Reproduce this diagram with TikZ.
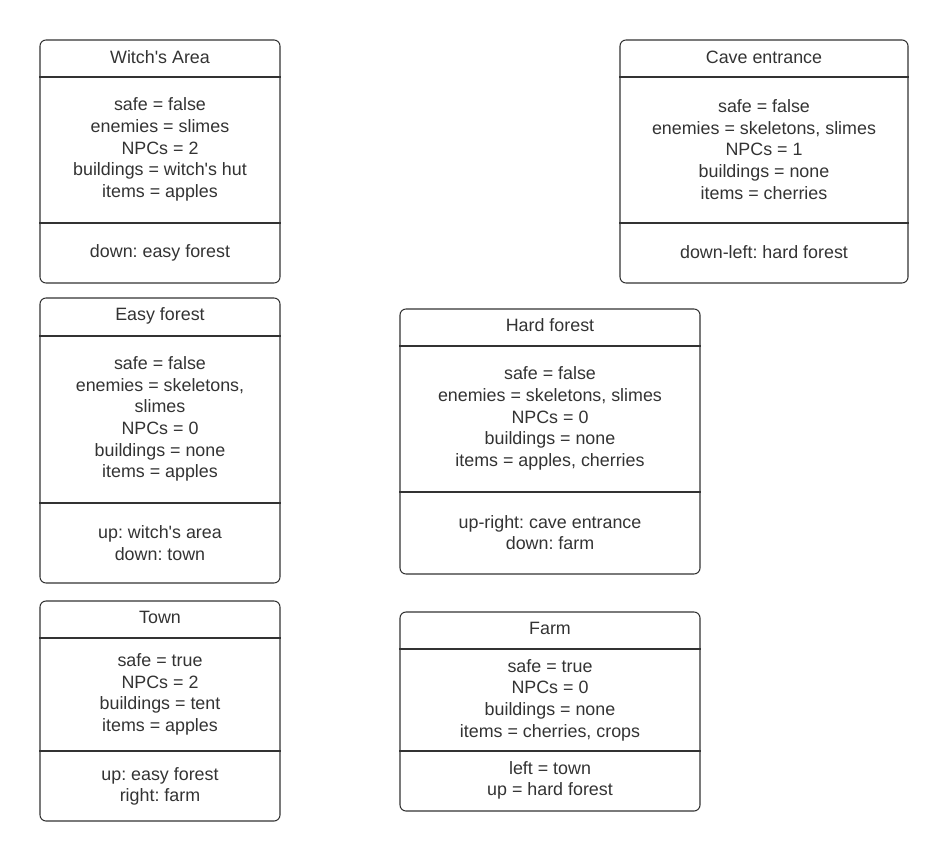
\documentclass[tikz,border=0pt]{standalone}
\usepackage{fontspec}
\setmainfont{Liberation Sans}
\usetikzlibrary{positioning}
\definecolor{ink}{HTML}{333333}
\tikzset{
	room/.style={rectangle, draw=ink, thick, rounded corners=4.5pt, inner sep=0pt},
	divider/.style={draw=ink, thick},
	label/.style={text=ink, align=center, font=\fontsize{13.4pt}{16.3pt}\selectfont}
}
\frenchspacing

\begin{document}
\begin{tikzpicture}[x=0.75pt, y=-0.75pt]
\useasboundingbox (0,0) rectangle (948,862);

% Witch's Area
\node[room, minimum width=180pt, minimum height=182.25pt] (witch) at (160,161.5) {};
\draw[divider] (witch.west |- 0,77) -- (witch.east |- 0,77);
\draw[divider] (witch.west |- 0,223) -- (witch.east |- 0,223);
\node[label] (witchtitle) at (160,57) {Witch\textquotesingle s Area};
\node[label] (witchbody) at (160,149.5) {safe = false\\enemies = slimes\\NPCs = 2\\buildings = witch\textquotesingle s hut\\items = apples};
\node[label] (witchexits) at (160,252.5) {down: easy forest};

% Cave entrance
\node[room, minimum width=216pt, minimum height=182.25pt] (cave) at (764,161.5) {};
\draw[divider] (cave.west |- 0,77) -- (cave.east |- 0,77);
\draw[divider] (cave.west |- 0,223) -- (cave.east |- 0,223);
\node[label] (cavetitle) at (764,57) {Cave entrance};
\node[label] (cavebody) at (764,149.5) {safe = false\\enemies = skeletons, slimes\\NPCs = 1\\buildings = none\\items = cherries};
\node[label] (caveexits) at (764,252.5) {down-left: hard forest};

% Easy forest
\node[room, minimum width=180pt, minimum height=213.75pt] (easy) at (160,440.5) {};
\draw[divider] (easy.west |- 0,336) -- (easy.east |- 0,336);
\draw[divider] (easy.west |- 0,503) -- (easy.east |- 0,503);
\node[label] (easytitle) at (160,315.5) {Easy forest};
\node[label] (easybody) at (160,419) {safe = false\\enemies = skeletons,\\slimes\\NPCs = 0\\buildings = none\\items = apples};
\node[label] (easyexits) at (160,543) {up: witch\textquotesingle s area\\down: town};

% Hard forest
\node[room, minimum width=225pt, minimum height=198.75pt] (hard) at (550,441.5) {};
\draw[divider] (hard.west |- 0,346) -- (hard.east |- 0,346);
\draw[divider] (hard.west |- 0,492) -- (hard.east |- 0,492);
\node[label] (hardtitle) at (550,325.5) {Hard forest};
\node[label] (hardbody) at (550,418.5) {safe = false\\enemies = skeletons, slimes\\NPCs = 0\\buildings = none\\items = apples, cherries};
\node[label] (hardexits) at (550,532.5) {up-right: cave entrance\\down: farm};

% Town
\node[room, minimum width=180pt, minimum height=165pt] (town) at (160,711) {};
\draw[divider] (town.west |- 0,638) -- (town.east |- 0,638);
\draw[divider] (town.west |- 0,751) -- (town.east |- 0,751);
\node[label] (towntitle) at (160,617.5) {Town};
\node[label] (townbody) at (160,694.5) {safe = true\\NPCs = 2\\buildings = tent\\items = apples};
\node[label] (townexits) at (160,786.5) {up: easy forest\\right: farm};

% Farm
\node[room, minimum width=225pt, minimum height=149.25pt] (farm) at (550,711.5) {};
\draw[divider] (farm.west |- 0,649) -- (farm.east |- 0,649);
\draw[divider] (farm.west |- 0,751) -- (farm.east |- 0,751);
\node[label] (farmtitle) at (550,628.5) {Farm};
\node[label] (farmbody) at (550,700) {safe = true\\NPCs = 0\\buildings = none\\items = cherries, crops};
\node[label] (farmexits) at (550,780.5) {left = town\\up = hard forest};

\end{tikzpicture}
\end{document}
